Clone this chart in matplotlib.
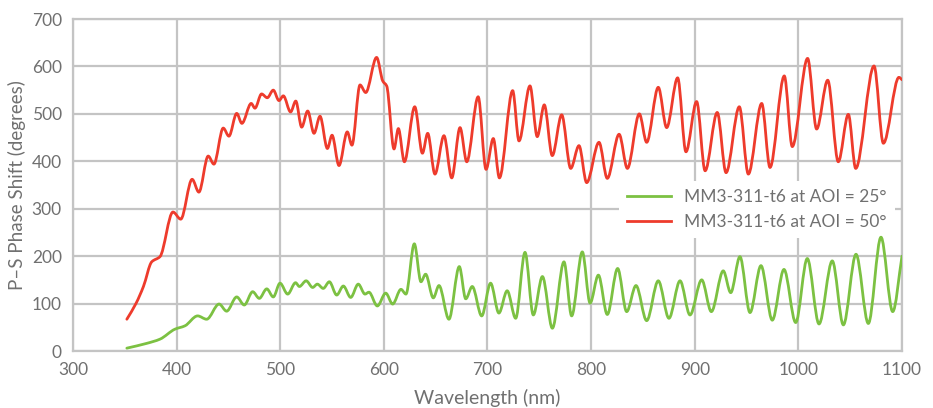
import numpy as np
import matplotlib
matplotlib.use("Agg")
import matplotlib.pyplot as plt
from matplotlib.path import Path
from matplotlib.patches import PathPatch
from matplotlib.lines import Line2D

# ---- data ----
red_x = [352, 361, 368, 376, 384, 396.5, 404, 415, 421.5, 430.5, 436, 445, 450.5, 458, 463, 472,
         475.6, 482, 487.5, 493.3, 498.8, 503, 510, 515, 520.7, 526.5, 532.6, 538.4, 545.5, 550,
         556.7, 564.7, 569.2, 577, 582.5, 593, 599, 602.7, 609.8, 614, 619.8, 629.8, 637.2, 642.3,
         649.3, 658, 665.5, 673.5, 680, 691, 698.6, 705.6, 711.5, 724.3, 730.4, 741, 748, 754.8,
         762.5, 771.6, 780.3, 788.3, 795.7, 807.6, 815.6, 827, 835, 846.5, 853.6, 864.8, 872.9,
         883.5, 891.5, 901.8, 910, 921.7, 930.2, 943, 951.7, 964.6, 972.6, 986.4, 994.1, 1008.9,
         1017.6, 1028.3, 1038.5, 1048.2, 1055.3, 1073, 1082, 1097, 1100]
red_y = [67, 101, 136, 188, 199, 293, 278, 362, 335, 411, 394, 470, 453, 501, 480, 522,
         512, 542, 534, 550, 528, 538, 504, 527, 472, 506, 459, 495, 427, 455,
         391, 462, 434, 561, 545, 619, 569, 559, 426, 469, 399, 515, 417, 459,
         373, 454, 365, 471, 399, 536, 383, 448, 365, 549, 443, 559, 452, 519,
         412, 498, 385, 433, 355, 440, 364, 457, 385, 500, 440, 556, 471,
         576, 420, 526, 380, 503, 376, 515, 373, 522, 387, 580, 431, 617,
         468, 571, 399, 499, 385, 601, 438, 577, 572]

green_x = [352, 371, 384, 398.4, 408, 420.3, 429, 441, 448.3, 458, 465.3, 473.4, 479.8, 487, 493.3,
           499.8, 507.2, 514.8, 518.5, 525, 531.3, 535.8, 541.5, 547.4, 554.5, 560.9, 568, 575.3,
           581.8, 585.6, 593.7, 601.8, 608.5, 616.5, 621.3, 629.4, 635.8, 640.3, 647.7, 653.2,
           662.8, 672.8, 679, 685.3, 694.4, 703, 711, 719, 727.2, 736.2, 744.2, 753, 762.6, 773.8,
           781.2, 791.5, 799, 807, 815.6, 825.6, 834.3, 843.3, 853.6, 864.8, 875.1, 885.8, 895.4,
           906.7, 916, 927.5, 934.7, 943.6, 953.3, 963.9, 974.8, 986.1, 997.4, 1008.6, 1019.9,
           1032.7, 1043.4, 1055.6, 1067.5, 1079.7, 1091, 1100]
green_y = [6, 16, 25, 46, 53, 74, 67, 99, 84, 114, 97, 125, 111, 131, 114,
           143, 120, 144, 136, 148, 134, 141, 132, 146, 118, 137, 113, 141,
           120, 124, 95, 122, 99, 130, 120, 226, 146, 162, 112, 138,
           67, 178, 110, 136, 74, 143, 80, 127, 69, 208, 76, 157, 48, 188,
           74, 209, 101, 160, 77, 174, 83, 138, 64, 148, 69, 148, 76,
           150, 83, 169, 123, 199, 81, 180, 65, 172, 60, 195, 57,
           190, 55, 204, 58, 240, 83, 200]

labels = ["MM3-311-t6 at AOI = 25°", "MM3-311-t6 at AOI = 50°"]
x_ticks = [300, 400, 500, 600, 700, 800, 900, 1000, 1100]
y_ticks = [0, 100, 200, 300, 400, 500, 600, 700]

GREEN = "#7CC142"
RED = "#EE3B2C"
GRID = "#C4C4C4"
TEXT = "#707070"

plt.rcParams['font.family'] = ['Lato', 'DejaVu Sans']


def smooth_path(x, y):
    """Cubic Bezier path through the data points (monotone tangents)."""
    x = np.asarray(x, float)
    y = np.asarray(y, float)
    h = np.diff(x)
    d = np.diff(y) / h
    m = np.zeros_like(y)
    m[0], m[-1] = d[0], d[-1]
    for k in range(1, len(y) - 1):
        if d[k - 1] * d[k] <= 0:
            m[k] = 0.0
        else:
            w1 = 2 * h[k] + h[k - 1]
            w2 = h[k] + 2 * h[k - 1]
            m[k] = (w1 + w2) / (w1 / d[k - 1] + w2 / d[k])
    verts = [(x[0], y[0])]
    codes = [Path.MOVETO]
    for k in range(len(x) - 1):
        verts += [(x[k] + h[k] / 3, y[k] + m[k] * h[k] / 3),
                  (x[k + 1] - h[k] / 3, y[k + 1] - m[k + 1] * h[k] / 3),
                  (x[k + 1], y[k + 1])]
        codes += [Path.CURVE4] * 3
    return Path(verts, codes)


fig = plt.figure(figsize=(9.33, 4.08), dpi=100)
ax = fig.add_axes([0.0782, 0.1397, 0.8886, 0.8137])

ax.set_xlim(300, 1100)
ax.set_ylim(0, 700)
ax.set_xticks(x_ticks)
ax.set_yticks(y_ticks)
ax.set_axisbelow(True)
ax.grid(True, color=GRID, linewidth=1.6)
for s in ax.spines.values():
    s.set_color(GRID)
    s.set_linewidth(1.6)
ax.tick_params(length=0, colors=TEXT, labelsize=12.5, pad=8)

for xs, ys, c in [(green_x, green_y, GREEN), (red_x, red_y, RED)]:
    ax.add_patch(PathPatch(smooth_path(xs, ys), facecolor='none', edgecolor=c,
                           linewidth=2.0, transform=ax.transData, zorder=3,
                           capstyle='round', joinstyle='round'))

ax.set_xlabel("Wavelength (nm)", color=TEXT, fontsize=14, labelpad=8)
ax.set_ylabel("P–S Phase Shift (degrees)", color=TEXT, fontsize=13.5, labelpad=4)

handles = [Line2D([], [], color=GREEN, lw=2.0), Line2D([], [], color=RED, lw=2.0)]
leg = ax.legend(handles, labels, loc='upper left', bbox_to_anchor=(0.659, 0.512),
                frameon=True, facecolor='white', edgecolor='none', framealpha=1,
                fancybox=False, fontsize=12.5, handlelength=2.5, handletextpad=0.8,
                labelspacing=0.55, borderpad=0.45, borderaxespad=0)
for t in leg.get_texts():
    t.set_color(TEXT)
leg.set_zorder(2)

fig.savefig("out.png", dpi=100)
